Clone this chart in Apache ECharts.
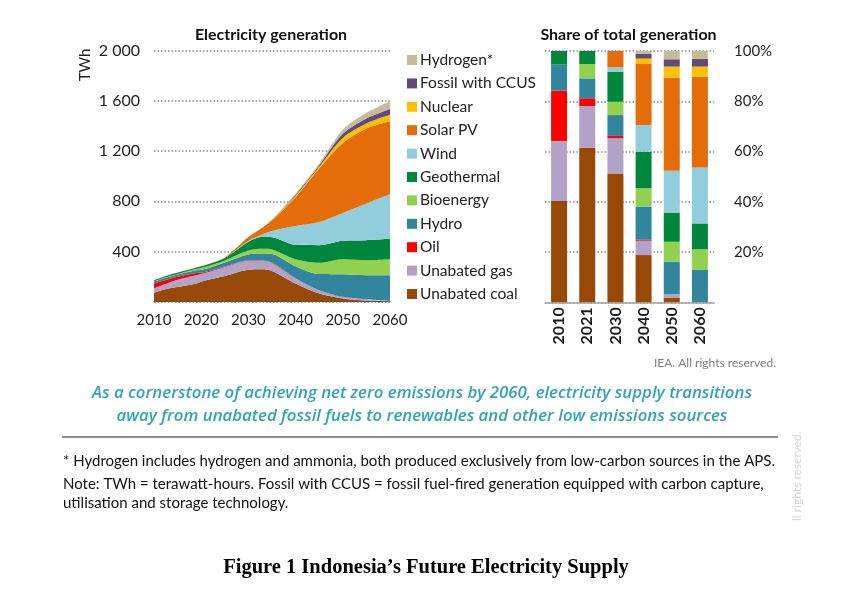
<!DOCTYPE html>
<html><head><meta charset="utf-8">
<script src="https://cdn.jsdelivr.net/npm/echarts@6/dist/echarts.min.js"></script>
<style>html,body{margin:0;padding:0;background:#fff}#c{width:842px;height:589px}</style>
</head><body><div id="c"></div>
<script>
// ---- Electricity generation (TWh) ----
const years   = [2010, 2013, 2016, 2019, 2021, 2025, 2030, 2033, 2035, 2040, 2045, 2050, 2055, 2060];
const coal    = [70, 105, 124, 145, 170, 205, 255, 258, 245, 145, 65, 26, 10, 3];
const gas     = [37, 45, 61, 66, 60, 72, 72, 68, 64, 40, 26, 13, 10, 4];
const oil     = [38, 29, 21, 17, 9, 4, 4, 3, 3, 2, 1, 0, 0, 0];
const hydro   = [15, 17, 19, 22, 24, 32, 46, 55, 68, 95, 128, 180, 191, 204];
const bio     = [2, 4, 6, 10, 15, 16, 30, 38, 36, 56, 90, 120, 120, 128];
const geo     = [9, 10, 11, 13, 15, 19, 70, 95, 98, 115, 140, 146, 159, 162];
const wind    = [0, 0, 0, 0, 0, 1, 8, 20, 50, 150, 185, 222, 293, 355];
const solar   = [0, 0, 0, 0, 1, 4, 30, 54, 85, 232, 426, 558, 597, 582];
const nuclear = [0, 0, 0, 0, 0, 0, 0, 0, 0, 9, 14, 40, 40, 51];
const ccus    = [0, 0, 0, 0, 0, 0, 0, 0, 2, 9, 13, 33, 40, 47];
const h2      = [0, 0, 0, 0, 0, 0, 0, 0, 2, 9, 13, 32, 45, 62];

// ---- Share of total generation (%) ----
const barYears     = ['2010', '2021', '2030', '2040', '2050', '2060'];
const coalShare    = [40.3, 61.5, 51.3, 18.8, 1.9, 0];
const gasShare     = [23.9, 16.6, 14.0, 5.7, 1.4, 0];
const oilShare     = [20.0, 3.1, 0.9, 0.4, 0, 0];
const hydroShare   = [10.5, 7.9, 8.3, 13.2, 12.9, 12.9];
const bioShare     = [0, 5.7, 5.3, 7.3, 7.9, 8.2];
const geoShare     = [5.3, 5.2, 12.0, 14.5, 11.6, 10.3];
const windShare    = [0, 0, 1.7, 10.7, 16.6, 22.2];
const solarShare   = [0, 0, 6.5, 24.2, 37.1, 36.2];
const nuclearShare = [0, 0, 0, 2.2, 4.4, 4.0];
const ccusShare    = [0, 0, 0, 1.8, 2.9, 3.0];
const h2Share      = [0, 0, 0, 1.2, 3.3, 3.2];

const seriesNames = ['Unabated coal', 'Unabated gas', 'Oil', 'Hydro', 'Bioenergy', 'Geothermal', 'Wind', 'Solar PV', 'Nuclear', 'Fossil with CCUS', 'Hydrogen*'];
const colors = ['#984807', '#b3a2c7', '#ff0000', '#31859c', '#92d050', '#00863d', '#92cddc', '#e46c0a', '#ffc000', '#604a7b', '#c4bd97'];
const areaData = [coal, gas, oil, hydro, bio, geo, wind, solar, nuclear, ccus, h2];
const shareData = [coalShare, gasShare, oilShare, hydroShare, bioShare, geoShare, windShare, solarShare, nuclearShare, ccusShare, h2Share];

const FONT = 'Lato, "Open Sans", sans-serif';
const dotted = { color: '#8a8a8a', width: 1.5, type: [1.5, 2] };

const series = [];
seriesNames.forEach((n, i) => {
  series.push({
    name: n, type: 'line', stack: 'gen', xAxisIndex: 0, yAxisIndex: 0,
    // value first so that the stacked dimension is the TWh value; year mapped to x
    data: years.map((y, k) => [areaData[i][k], y]),
    encode: { x: 1, y: 0 },
    showSymbol: false, symbol: 'none', smooth: 0.3,
    lineStyle: { width: 0 }, areaStyle: { color: colors[i], opacity: 1 },
    itemStyle: { color: colors[i] }, z: 3
  });
});
seriesNames.forEach((n, i) => {
  series.push({
    name: n, type: 'bar', stack: 'share', xAxisIndex: 1, yAxisIndex: 1,
    data: shareData[i], barWidth: 16, itemStyle: { color: colors[i] }, z: 3
  });
});

const chart = echarts.init(document.getElementById('c'), null, { renderer: 'canvas' });
chart.setOption({
  animation: false,
  textStyle: { fontFamily: FONT },
  grid: [
    { left: 154, top: 50.7, width: 236, height: 251 },
    { left: 545, top: 51, width: 169, height: 251.3 }
  ],
  xAxis: [
    { type: 'value', gridIndex: 0, min: 2010, max: 2060, interval: 10,
      axisLine: { onZero: false, lineStyle: { color: '#4d4d4d', width: 1 } }, axisTick: { show: false },
      splitLine: { show: false },
      axisLabel: { color: '#222', fontSize: 15, margin: 11, fontFamily: FONT, formatter: v => String(v) } },
    { type: 'category', gridIndex: 1, data: barYears,
      axisLine: { lineStyle: { color: '#a6a6a6', width: 1.5 } }, axisTick: { show: false },
      axisLabel: { rotate: 90, color: '#1a1a1a', fontSize: 16, fontWeight: 'bold', margin: 5, fontFamily: FONT } }
  ],
  yAxis: [
    { type: 'value', gridIndex: 0, min: 0, max: 2000, interval: 400,
      axisLine: { show: false }, axisTick: { show: false },
      splitLine: { show: true, lineStyle: dotted },
      axisLabel: { color: '#222', fontSize: 16, margin: 14, fontFamily: FONT,
        formatter: v => v === 0 ? '' : (v >= 1000 ? Math.floor(v / 1000) + ' ' + String(v % 1000).padStart(3, '0') : String(v)) } },
    { type: 'value', gridIndex: 1, position: 'right', min: 0, max: 100, interval: 20,
      axisLine: { show: false }, axisTick: { show: false },
      splitLine: { show: true, lineStyle: dotted },
      axisLabel: { color: '#222', fontSize: 15, margin: 20, fontFamily: FONT,
        formatter: v => v === 0 ? '' : v + '%' } }
  ],
  legend: {
    orient: 'vertical', left: 402, top: 47,
    data: seriesNames.slice().reverse(),
    icon: 'rect', itemWidth: 10, itemHeight: 10, itemGap: 7.4,
    textStyle: { fontSize: 15.5, color: '#222', fontFamily: FONT, padding: [0, 0, 0, -2] },
    selectedMode: false
  },
  series: series,
  graphic: [
    { type: 'text', x: 271, y: 35, style: { text: 'Electricity generation', font: 'bold 16px ' + FONT, fill: '#111', textAlign: 'center', textVerticalAlign: 'middle' } },
    { type: 'text', x: 628.5, y: 35, style: { text: 'Share of total generation', font: 'bold 16px ' + FONT, fill: '#111', textAlign: 'center', textVerticalAlign: 'middle' } },
    { type: 'text', x: 85, y: 65, rotation: Math.PI / 2, style: { text: 'TWh', font: '15px ' + FONT, fill: '#222', textAlign: 'center', textVerticalAlign: 'middle' } },
    { type: 'text', x: 776, y: 363, style: { text: 'IEA. All rights reserved.', font: '12px ' + FONT, fill: '#7f7f7f', textAlign: 'right', textVerticalAlign: 'middle' } },
    { type: 'text', x: 422, y: 393, style: { text: 'As a cornerstone of achieving net zero emissions by 2060, electricity supply transitions', font: 'italic 600 16.8px "Open Sans", sans-serif', fill: '#31a4b5', textAlign: 'center', textVerticalAlign: 'middle' } },
    { type: 'text', x: 422, y: 416, style: { text: 'away from unabated fossil fuels to renewables and other low emissions sources', font: 'italic 600 16.8px "Open Sans", sans-serif', fill: '#31a4b5', textAlign: 'center', textVerticalAlign: 'middle' } },
    { type: 'line', shape: { x1: 62, y1: 437, x2: 778, y2: 437 }, style: { stroke: '#8c8c8c', lineWidth: 2 } },
    { type: 'text', x: 63, y: 461, style: { text: '* Hydrogen includes hydrogen and ammonia, both produced exclusively from low-carbon sources in the APS.', font: '15px ' + FONT, fill: '#111', textAlign: 'left', textVerticalAlign: 'middle' } },
    { type: 'text', x: 63, y: 484, style: { text: 'Note: TWh = terawatt-hours. Fossil with CCUS = fossil fuel-fired generation equipped with carbon capture,', font: '15px ' + FONT, fill: '#111', textAlign: 'left', textVerticalAlign: 'middle' } },
    { type: 'text', x: 63, y: 503, style: { text: 'utilisation and storage technology.', font: '15px ' + FONT, fill: '#111', textAlign: 'left', textVerticalAlign: 'middle' } },
    { type: 'text', x: 797, y: 521, rotation: Math.PI / 2, style: { text: 'll rights reserved.', font: '12px ' + FONT, fill: '#d6d6d6', textAlign: 'left', textVerticalAlign: 'middle' } },
    { type: 'text', x: 426, y: 568, style: { text: 'Figure 1 Indonesia\u2019s Future Electricity Supply', font: 'bold 20.5px "Liberation Serif", "Times New Roman", serif', fill: '#000', textAlign: 'center', textVerticalAlign: 'middle' } }
  ]
});
</script></body></html>
